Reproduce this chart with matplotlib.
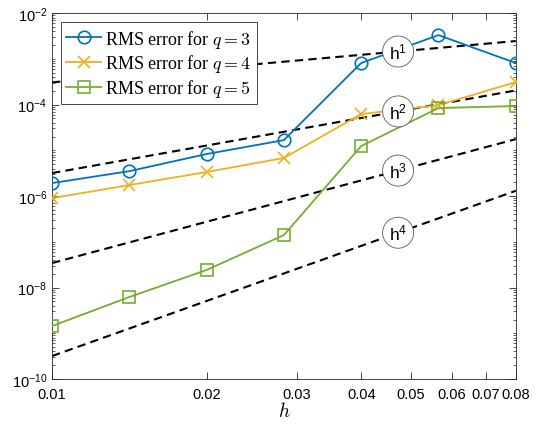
import numpy as np
import matplotlib
matplotlib.use("Agg")
import matplotlib.pyplot as plt
from matplotlib.ticker import LogLocator, FixedLocator, FixedFormatter, NullFormatter

plt.rcParams["font.family"] = "Liberation Sans"
plt.rcParams["mathtext.fontset"] = "cm"

# --- data ------------------------------------------------------------------
h = [0.01, 0.01414, 0.02, 0.02828, 0.04, 0.05657, 0.08]
err_q3 = [1.92e-6, 3.5e-6, 8.3e-6, 1.67e-5, 8.1e-4, 3.3e-3, 8.1e-4]
err_q4 = [9.0e-7, 1.74e-6, 3.35e-6, 6.8e-6, 6.2e-5, 9.7e-5, 3.1e-4]
err_q5 = [1.44e-9, 6.2e-9, 2.42e-8, 1.4e-7, 1.24e-5, 8.4e-5, 9.3e-5]

ref_orders = [1, 2, 3, 4]
ref_consts = [0.0306, 0.0318, 0.0343, 0.0318]
ref_label_h = 0.0472

x_ticks = [0.01, 0.02, 0.03, 0.04, 0.05, 0.06, 0.07, 0.08]
x_tick_labels = ["0.01", "0.02", "0.03", "0.04", "0.05", "0.06", "0.07", "0.08"]
y_ticks = [1e-10, 1e-8, 1e-6, 1e-4, 1e-2]

# MATLAB default colours
C_BLUE = "#0072BD"
C_YELLOW = "#EDB120"
C_GREEN = "#77AC30"

fig = plt.figure(figsize=(5.38, 4.27), dpi=100)
ax = fig.add_axes([0.0967, 0.110, 0.862, 0.857])
ax.set_xscale("log")
ax.set_yscale("log")

hh = np.array([h[0], h[-1]])
for p, c in zip(ref_orders, ref_consts):
    ax.plot(hh, c * hh ** p, color="black", lw=1.5, ls=(0, (4, 2.5)), zorder=2)

ax.plot(h, err_q3, color=C_BLUE, lw=1.3, marker="o", ms=9, mfc="none",
        mew=1.2, label=r"RMS error for $q=3$", zorder=3)
ax.plot(h, err_q4, color=C_YELLOW, lw=1.3, marker="x", ms=8,
        mew=1.2, label=r"RMS error for $q=4$", zorder=3)
ax.plot(h, err_q5, color=C_GREEN, lw=1.3, marker="s", ms=8, mfc="none",
        mew=1.2, label=r"RMS error for $q=5$", zorder=3)

for p, c in zip(ref_orders, ref_consts):
    ax.text(ref_label_h, c * ref_label_h ** p, r"$\mathregular{h^{%d}}$" % p,
            ha="center", va="center", fontsize=12.5, zorder=5,
            bbox=dict(boxstyle="circle,pad=0.32", fc="white", ec="0.35", lw=0.6))

ax.set_xlim(0.01, 0.08)
ax.set_ylim(1e-10, 1e-2)

ax.xaxis.set_major_locator(FixedLocator(x_ticks))
ax.xaxis.set_major_formatter(FixedFormatter(x_tick_labels))
ax.xaxis.set_minor_locator(LogLocator(base=10, subs=np.arange(1, 10) * 0.1, numticks=50))
ax.xaxis.set_minor_formatter(NullFormatter())

ax.yaxis.set_major_locator(FixedLocator(y_ticks))
ax.yaxis.set_major_formatter(FixedFormatter(
    [r"$\mathregular{10^{%d}}$" % int(round(np.log10(v))) for v in y_ticks]))
ax.yaxis.set_minor_locator(LogLocator(base=10, subs=np.arange(1, 10), numticks=50))
ax.yaxis.set_minor_formatter(NullFormatter())

ax.tick_params(which="both", direction="in", top=True, right=True,
               colors="0.15", labelcolor="black", labelsize=10.5)
ax.tick_params(which="major", length=5, width=0.6)
ax.tick_params(which="minor", length=2.5, width=0.5)
ax.tick_params(axis="x", which="major", pad=6)
for s in ax.spines.values():
    s.set_color("0.15")
    s.set_linewidth(0.6)

ax.set_xlabel(r"$h$", fontsize=14, labelpad=0)

leg = ax.legend(loc="upper left", prop={"family": "Liberation Serif", "size": 13},
                handlelength=1.9, handletextpad=0.25, borderpad=0.3,
                labelspacing=0.15, fancybox=False, framealpha=1,
                borderaxespad=0.5)
leg.get_frame().set_edgecolor("0.15")
leg.get_frame().set_linewidth(0.6)
leg.set_zorder(6)

fig.savefig("out.png", dpi=100)
